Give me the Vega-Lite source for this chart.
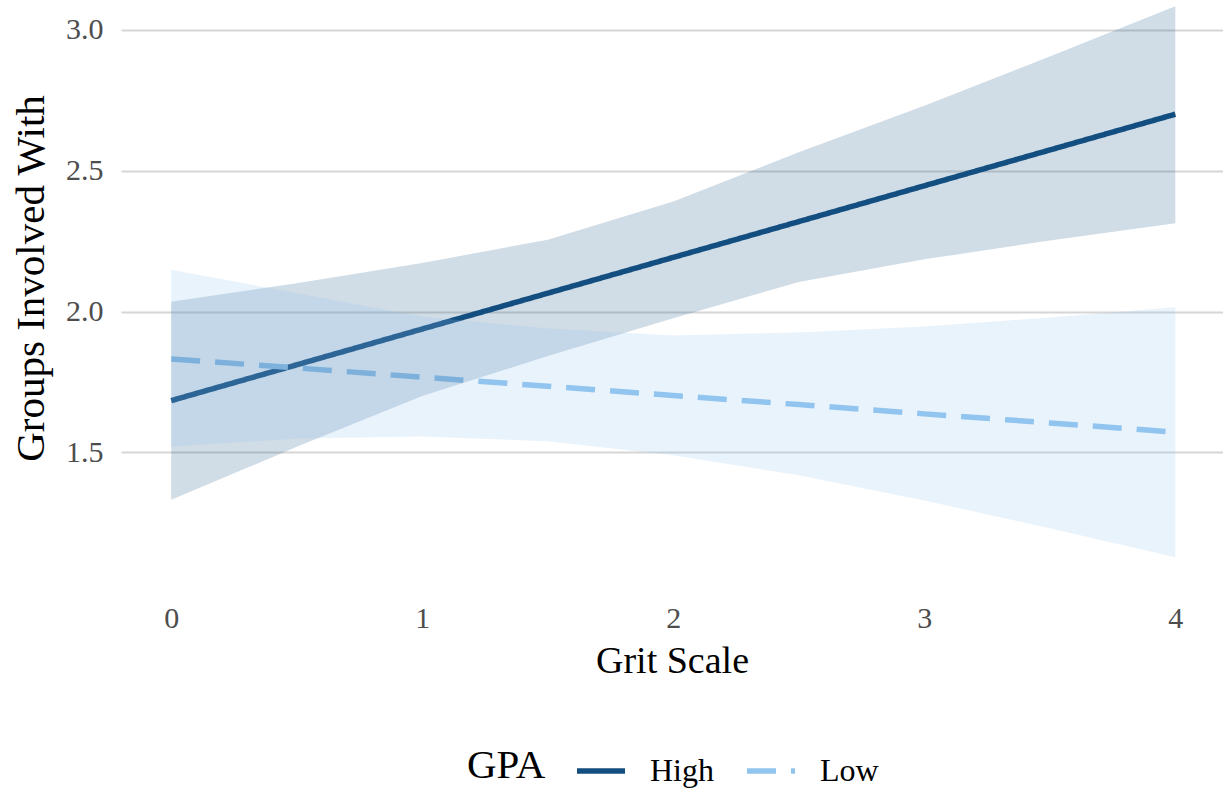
{
  "$schema": "https://vega.github.io/schema/vega-lite/v6.json",
  "width": 1102,
  "height": 585,
  "autosize": {"type": "none"},
  "padding": {"left": 121, "top": 0, "right": 0, "bottom": 205},
  "background": "white",
  "config": {
    "font": "Liberation Serif",
    "view": {"stroke": null},
    "axis": {"domain": false, "ticks": false, "tickSize": 0}
  },
  "data": {
    "values": [
      {"grit": 0, "gpa": "High", "fit": 1.684, "lo": 1.332, "hi": 2.035},
      {"grit": 0.5, "gpa": "High", "fit": 1.811, "lo": 1.52, "hi": 2.1},
      {"grit": 1, "gpa": "High", "fit": 1.938, "lo": 1.7, "hi": 2.172},
      {"grit": 1.5, "gpa": "High", "fit": 2.065, "lo": 1.842, "hi": 2.255},
      {"grit": 2, "gpa": "High", "fit": 2.192, "lo": 1.976, "hi": 2.39},
      {"grit": 2.5, "gpa": "High", "fit": 2.319, "lo": 2.105, "hi": 2.565},
      {"grit": 3, "gpa": "High", "fit": 2.446, "lo": 2.185, "hi": 2.73},
      {"grit": 3.5, "gpa": "High", "fit": 2.573, "lo": 2.252, "hi": 2.905},
      {"grit": 4, "gpa": "High", "fit": 2.7, "lo": 2.313, "hi": 3.083},
      {"grit": 0, "gpa": "Low", "fit": 1.832, "lo": 1.521, "hi": 2.148},
      {"grit": 0.5, "gpa": "Low", "fit": 1.8, "lo": 1.55, "hi": 2.065},
      {"grit": 1, "gpa": "Low", "fit": 1.767, "lo": 1.557, "hi": 1.982},
      {"grit": 1.5, "gpa": "Low", "fit": 1.735, "lo": 1.54, "hi": 1.94},
      {"grit": 2, "gpa": "Low", "fit": 1.702, "lo": 1.49, "hi": 1.915},
      {"grit": 2.5, "gpa": "Low", "fit": 1.67, "lo": 1.419, "hi": 1.926},
      {"grit": 3, "gpa": "Low", "fit": 1.637, "lo": 1.33, "hi": 1.947},
      {"grit": 3.5, "gpa": "Low", "fit": 1.605, "lo": 1.231, "hi": 1.979},
      {"grit": 4, "gpa": "Low", "fit": 1.572, "lo": 1.128, "hi": 2.015}
    ]
  },
  "layer": [
    {
      "mark": {"type": "line", "strokeWidth": 5.5, "strokeCap": "butt", "clip": true},
      "encoding": {
        "x": {
          "field": "grit", "type": "quantitative",
          "scale": {"domain": [-0.2, 4.19], "nice": false, "zero": false},
          "axis": {
            "title": "Grit Scale", "values": [0, 1, 2, 3, 4], "format": "d",
            "grid": false,
            "labelFontSize": 30, "labelColor": "#4d4d4d", "labelPadding": 42,
            "labelBaseline": "alphabetic",
            "titleFontSize": 38, "titleFontWeight": "normal", "titleColor": "#000000",
            "titleBaseline": "alphabetic", "titleX": 551, "titleY": 87
          }
        },
        "y": {
          "field": "fit", "type": "quantitative",
          "scale": {"domain": [1.03, 3.105], "nice": false, "zero": false},
          "axis": {
            "title": "Groups Involved With", "values": [1.5, 2, 2.5, 3], "format": ".1f",
            "grid": true, "gridColor": "#d6d6d6", "gridWidth": 2,
            "labelFontSize": 30, "labelColor": "#4d4d4d", "labelPadding": 18,
            "titleFontSize": 41, "titleFontWeight": "normal", "titleColor": "#000000",
            "titleAngle": 270, "titleAlign": "center", "titleBaseline": "alphabetic",
            "titleX": -78, "titleY": 278
          }
        },
        "color": {
          "field": "gpa", "type": "nominal",
          "scale": {"domain": ["High", "Low"], "range": ["#134e80", "#92c5ee"]},
          "legend": {
            "title": "GPA", "orient": "none", "direction": "horizontal",
            "legendX": 346, "legendY": 744,
            "titleOrient": "left", "titleFontSize": 41, "titleFontWeight": "normal",
            "titleColor": "#000000", "titlePadding": 28, "titleBaseline": "middle",
            "labelFontSize": 32, "labelColor": "#000000", "labelOffset": 22,
            "symbolType": "stroke", "symbolStrokeWidth": 5.5, "symbolSize": 2304,
            "columnPadding": 22
          }
        },
        "strokeDash": {
          "field": "gpa", "type": "nominal",
          "scale": {"domain": ["High", "Low"], "range": [[1, 0], [29, 15]]},
          "legend": {
            "title": "GPA", "orient": "none", "direction": "horizontal",
            "legendX": 346, "legendY": 744
          }
        }
      }
    },
    {
      "mark": {"type": "area", "fillOpacity": 0.2, "clip": true},
      "encoding": {
        "x": {"field": "grit", "type": "quantitative"},
        "y": {"field": "lo", "type": "quantitative"},
        "y2": {"field": "hi"},
        "fill": {
          "field": "gpa", "type": "nominal",
          "scale": {"domain": ["High", "Low"], "range": ["#134e80", "#92c5ee"]},
          "legend": null
        }
      }
    }
  ]
}
